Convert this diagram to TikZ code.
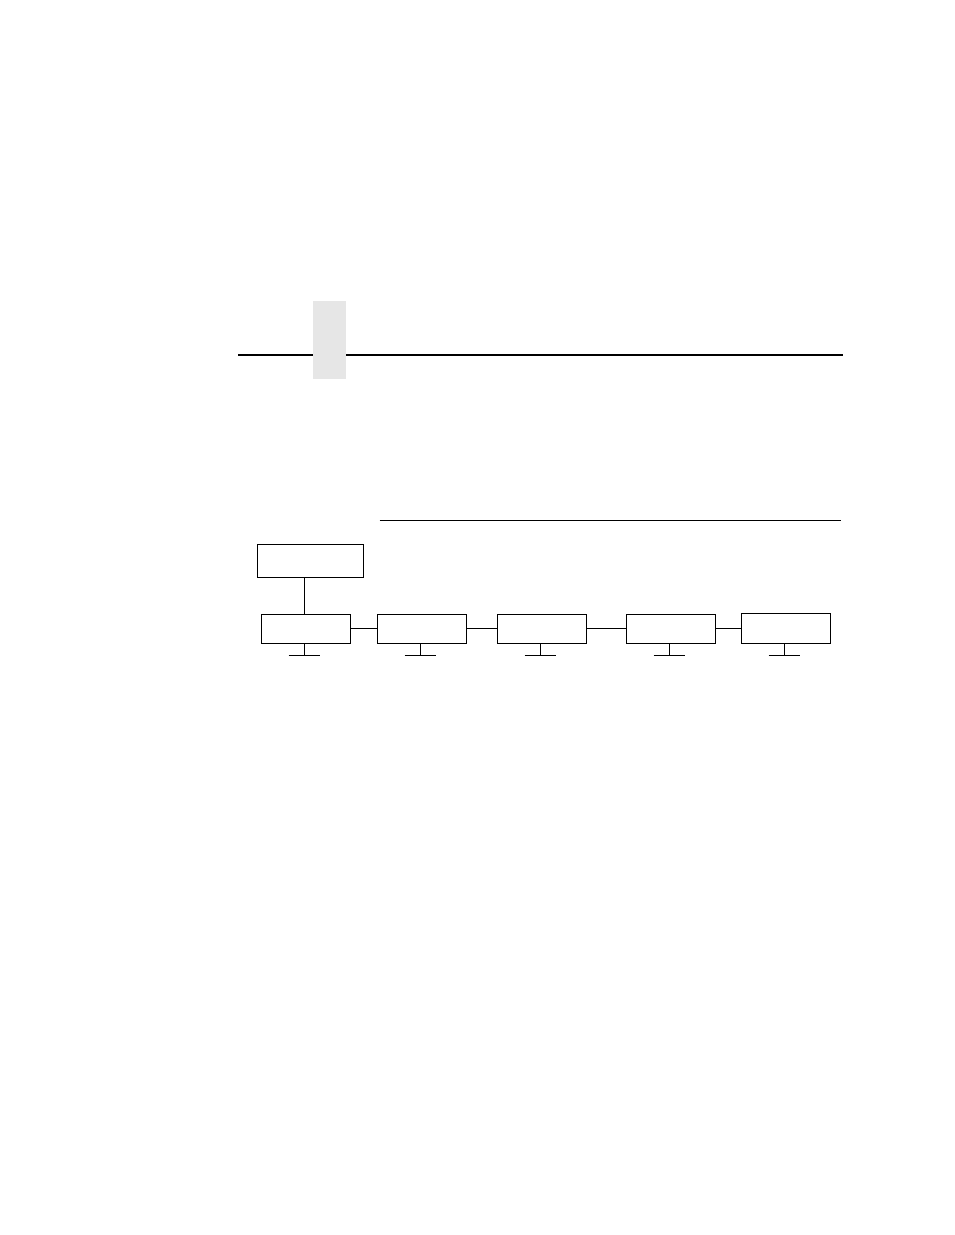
\documentclass[tikz,border=0pt]{standalone}
\definecolor{tabgray}{RGB}{230,230,230}
\begin{document}
\begin{tikzpicture}[x=1pt,y=-1pt,
  box/.style={draw=black,line width=1pt,inner sep=0pt,minimum height=29pt,minimum width=89pt},
  wire/.style={draw=black,line width=1pt},
  rule/.style={draw=black,line width=1.2pt}]
\useasboundingbox (0,0) rectangle (954,1235);
% header tab and rule
\fill[tabgray] (313,301) rectangle (346,379);
\coordinate (hl) at (238,355);
\coordinate (hr) at (843,355);
\coordinate (hm1) at (313,355);
\coordinate (hm2) at (346,355);
\draw[rule] (hl) -- (hm1);
\draw[rule] (hm2) -- (hr);
% section rule
\coordinate (sl) at (379.5,520.3);
\coordinate (sr) at (841,520.3);
\draw[wire] (sl) -- (sr);
% top box
\node[box,minimum width=106.4pt,minimum height=33pt] (top) at (310.5,560.8) {};
% row of boxes
\node[box] (b1) at (306,628.8) {};
\node[box] (b2) at (421.8,628.8) {};
\node[box] (b3) at (541.8,628.8) {};
\node[box] (b4) at (671,628.8) {};
\node[box,minimum height=30pt] (b5) at (785.8,628.3) {};
% connectors
\coordinate (t1) at (304.3,577.3);
\coordinate (t2) at (304.3,614.3);
\draw[wire] (t1) -- (t2);
\draw[wire] (b1.east) -- (b2.west);
\draw[wire] (b2.east) -- (b3.west);
\draw[wire] (b3.east) -- (b4.west);
\draw[wire] (b4.east |- b4.center) -- (b5.west |- b4.center);
% feet
\foreach \n/\x in {1/304.3,2/420.3,3/540.3,4/669.3,5/784.3}{
  \coordinate (s\n) at (\x,643.3);
  \coordinate (f\n) at (\x,655);
  \coordinate (fl\n) at (\x-15.7,655);
  \coordinate (fr\n) at (\x+15.7,655);
  \draw[wire] (s\n) -- (f\n);
  \draw[wire] (fl\n) -- (fr\n);
}
\end{tikzpicture}
\end{document}
